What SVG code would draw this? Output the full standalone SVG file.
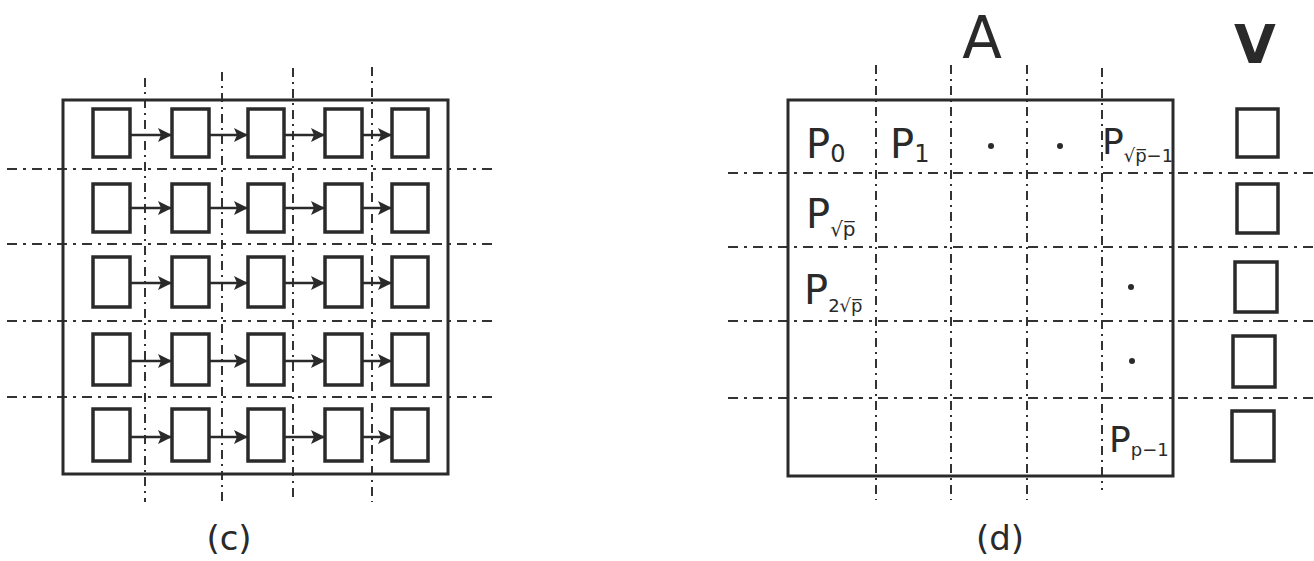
<svg xmlns="http://www.w3.org/2000/svg" width="1314" height="561" viewBox="0 0 1314 561">
<style>
.frame{fill:none;stroke:#2a2a2a;stroke-width:3}
.box{fill:none;stroke:#2a2a2a;stroke-width:3.5}
.hd{stroke:#333;stroke-width:2;stroke-dasharray:10 6 3 6;fill:none}
.vd{stroke:#333;stroke-width:2;stroke-dasharray:9 5 2 5;fill:none}
.arr{stroke:#2a2a2a;stroke-width:2.5;fill:none;marker-end:url(#ah)}
.lbl{font-family:"DejaVu Sans","Liberation Sans",sans-serif;fill:#2a2a2a}
.dot{fill:#2a2a2a}
</style>
<defs>
<marker id="ah" viewBox="0 0 14 14" refX="13" refY="7" markerWidth="14" markerHeight="14" orient="auto" markerUnits="userSpaceOnUse">
<path d="M0,0 L14,7 L0,14 L3,7 z" fill="#2a2a2a"/>
</marker>
</defs>
<rect width="1314" height="561" fill="#ffffff"/>

<!-- Panel (c) -->
<g id="panel-c-grid">
<line class="vd" x1="145" y1="78" x2="145" y2="502"/>
<line class="vd" x1="222" y1="72" x2="222" y2="502"/>
<line class="vd" x1="293" y1="68" x2="293" y2="502"/>
<line class="vd" x1="372" y1="67" x2="372" y2="502"/>
<line class="hd" x1="7" y1="169" x2="494" y2="169"/>
<line class="hd" x1="7" y1="244" x2="494" y2="244"/>
<line class="hd" x1="7" y1="321" x2="494" y2="321"/>
<line class="hd" x1="7" y1="397" x2="494" y2="397"/>
</g>
<g id="panel-c-frame"><rect class="frame" x="63" y="100" width="385" height="374"/></g>

<g id="c-r1c1"><rect class="box" x="93" y="109" width="37" height="48"/></g>
<g id="c-r1c2"><rect class="box" x="172" y="109" width="37" height="48"/></g>
<g id="c-r1c3"><rect class="box" x="248" y="109" width="36" height="48"/></g>
<g id="c-r1c4"><rect class="box" x="325" y="109" width="37" height="48"/></g>
<g id="c-r1c5"><rect class="box" x="392" y="109" width="36" height="48"/></g>

<g id="c-r2c1"><rect class="box" x="93" y="184" width="37" height="48"/></g>
<g id="c-r2c2"><rect class="box" x="172" y="184" width="37" height="48"/></g>
<g id="c-r2c3"><rect class="box" x="248" y="184" width="36" height="48"/></g>
<g id="c-r2c4"><rect class="box" x="325" y="184" width="37" height="48"/></g>
<g id="c-r2c5"><rect class="box" x="392" y="184" width="36" height="48"/></g>

<g id="c-r3c1"><rect class="box" x="93" y="257" width="37" height="50"/></g>
<g id="c-r3c2"><rect class="box" x="172" y="257" width="37" height="50"/></g>
<g id="c-r3c3"><rect class="box" x="248" y="257" width="36" height="50"/></g>
<g id="c-r3c4"><rect class="box" x="325" y="257" width="37" height="50"/></g>
<g id="c-r3c5"><rect class="box" x="392" y="257" width="36" height="50"/></g>

<g id="c-r4c1"><rect class="box" x="93" y="334" width="37" height="51"/></g>
<g id="c-r4c2"><rect class="box" x="172" y="334" width="37" height="51"/></g>
<g id="c-r4c3"><rect class="box" x="248" y="334" width="36" height="51"/></g>
<g id="c-r4c4"><rect class="box" x="325" y="334" width="37" height="51"/></g>
<g id="c-r4c5"><rect class="box" x="392" y="334" width="36" height="51"/></g>

<g id="c-r5c1"><rect class="box" x="93" y="409" width="37" height="52"/></g>
<g id="c-r5c2"><rect class="box" x="172" y="409" width="37" height="52"/></g>
<g id="c-r5c3"><rect class="box" x="248" y="409" width="36" height="52"/></g>
<g id="c-r5c4"><rect class="box" x="325" y="409" width="37" height="52"/></g>
<g id="c-r5c5"><rect class="box" x="392" y="409" width="36" height="52"/></g>

<g id="connectors">
<line class="arr" x1="131" y1="135" x2="171" y2="135"/>
<line class="arr" x1="210" y1="135" x2="247" y2="135"/>
<line class="arr" x1="285" y1="135" x2="324" y2="135"/>
<line class="arr" x1="363" y1="135" x2="391" y2="135"/>

<line class="arr" x1="131" y1="208" x2="171" y2="208"/>
<line class="arr" x1="210" y1="208" x2="247" y2="208"/>
<line class="arr" x1="285" y1="208" x2="324" y2="208"/>
<line class="arr" x1="363" y1="208" x2="391" y2="208"/>

<line class="arr" x1="131" y1="283" x2="171" y2="283"/>
<line class="arr" x1="210" y1="283" x2="247" y2="283"/>
<line class="arr" x1="285" y1="283" x2="324" y2="283"/>
<line class="arr" x1="363" y1="283" x2="391" y2="283"/>

<line class="arr" x1="131" y1="361" x2="171" y2="361"/>
<line class="arr" x1="210" y1="361" x2="247" y2="361"/>
<line class="arr" x1="285" y1="361" x2="324" y2="361"/>
<line class="arr" x1="363" y1="361" x2="391" y2="361"/>

<line class="arr" x1="131" y1="437" x2="171" y2="437"/>
<line class="arr" x1="210" y1="437" x2="247" y2="437"/>
<line class="arr" x1="285" y1="437" x2="324" y2="437"/>
<line class="arr" x1="363" y1="437" x2="391" y2="437"/>
</g>

<g id="caption-c"><text class="lbl" x="229" y="550" font-size="34" text-anchor="middle">(c)</text></g>

<!-- Panel (d) -->
<g id="panel-d-grid">
<line class="vd" x1="876" y1="65" x2="876" y2="500"/>
<line class="vd" x1="951" y1="65" x2="951" y2="500"/>
<line class="vd" x1="1027" y1="65" x2="1027" y2="500"/>
<line class="vd" x1="1102" y1="68" x2="1102" y2="490"/>
<line class="hd" x1="728" y1="173" x2="1314" y2="173"/>
<line class="hd" x1="728" y1="247" x2="1314" y2="247"/>
<line class="hd" x1="728" y1="321" x2="1314" y2="321"/>
<line class="hd" x1="728" y1="398" x2="1314" y2="398"/>
</g>
<g id="panel-d-frame"><rect class="frame" x="788" y="100" width="385" height="376"/></g>

<g id="label-A"><text class="lbl" x="982" y="58" font-size="58" text-anchor="middle">A</text></g>
<g id="label-V"><text class="lbl" x="1255" y="63" font-size="54" font-weight="bold" text-anchor="middle">V</text></g>

<g id="d-p0"><text class="lbl" x="806" y="158" font-size="40">P<tspan font-size="24" dy="4">0</tspan></text></g>
<g id="d-p1"><text class="lbl" x="890" y="158" font-size="40">P<tspan font-size="24" dy="4">1</tspan></text></g>
<g id="d-dot1"><circle class="dot" cx="991" cy="146" r="3"/></g>
<g id="d-dot2"><circle class="dot" cx="1060" cy="146" r="3"/></g>
<g id="d-psqrtp1"><text class="lbl" x="1102" y="154" font-size="36">P<tspan font-size="18" dy="8">√p̅−1</tspan></text></g>
<g id="d-psqrtp"><text class="lbl" x="806" y="228" font-size="40">P<tspan font-size="20" dy="8">√p̅</tspan></text></g>
<g id="d-p2sqrtp"><text class="lbl" x="804" y="304" font-size="40">P<tspan font-size="18" dy="8">2√p̅</tspan></text></g>
<g id="d-dot3"><circle class="dot" cx="1131" cy="287" r="3"/></g>
<g id="d-dot4"><circle class="dot" cx="1132" cy="361" r="3"/></g>
<g id="d-pp1"><text class="lbl" x="1109" y="452" font-size="36">P<tspan font-size="18" dy="4">p−1</tspan></text></g>

<g id="v1"><rect class="box" x="1237" y="109" width="41" height="48"/></g>
<g id="v2"><rect class="box" x="1237" y="184" width="41" height="49"/></g>
<g id="v3"><rect class="box" x="1235" y="262" width="42" height="50"/></g>
<g id="v4"><rect class="box" x="1233" y="336" width="42" height="51"/></g>
<g id="v5"><rect class="box" x="1232" y="411" width="42" height="50"/></g>

<g id="caption-d"><text class="lbl" x="1000" y="550" font-size="34" text-anchor="middle">(d)</text></g>
</svg>
